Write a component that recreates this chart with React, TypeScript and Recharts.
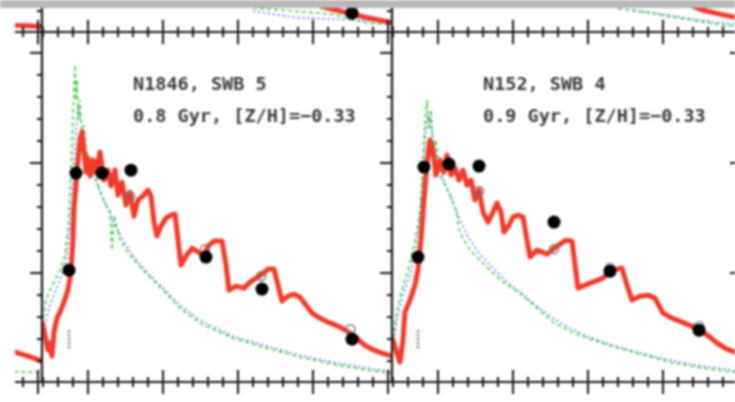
import React from "react";
import { ComposedChart, Line, Scatter, XAxis, YAxis, ReferenceLine } from "recharts";

type Pt = { x: number; y: number };
const pts = (a: number[][]): Pt[] => a.map(([x, y]) => ({ x, y }));

// axis frame (x ~ wavelength units, y ~ log flux units)
const X_DOMAIN: [number, number] = [0.387, 5.053];
const Y_DOMAIN: [number, number] = [0.01, 3.19];
const MAJOR_X = [1, 2, 3, 4, 5];
const MINOR_X = [0.4, 0.6, 0.8, 1.2, 1.4, 1.6, 1.8, 2.2, 2.4, 2.6, 2.8, 3.2, 3.4, 3.6, 3.8, 4.2, 4.4, 4.6, 4.8];
const MAJOR_Y = [1, 2, 3];
const MINOR_Y = [0.2, 0.4, 0.6, 0.8, 1.2, 1.4, 1.6, 1.8, 2.2, 2.4, 2.6, 2.8];

// N1846, SWB 5
const n1846Red = pts([
  [0.387, 0.554], [0.427, 0.436], [0.467, 0.3], [0.493, 0.363], [0.52, 0.245], [0.547, 0.463],
  [0.587, 0.59], [0.627, 0.645], [0.68, 0.736], [0.733, 0.845], [0.773, 1.008], [0.8, 1.3],
  [0.813, 1.572], [0.84, 1.799], [0.867, 2.026], [0.893, 2.208], [0.92, 2.281], [0.947, 2.117],
  [0.973, 1.917], [1.0, 2.045], [1.027, 1.881], [1.067, 2.026], [1.107, 1.917], [1.16, 2.099],
  [1.213, 1.845], [1.267, 1.936], [1.307, 1.79], [1.36, 1.936], [1.4, 1.708], [1.453, 1.826],
  [1.507, 1.617], [1.56, 1.736], [1.613, 1.517], [1.667, 1.663], [1.733, 1.699], [1.8, 1.754],
  [1.84, 1.699], [1.88, 1.463], [1.92, 1.336], [1.973, 1.426], [2.04, 1.499], [2.107, 1.526],
  [2.16, 1.536], [2.2, 1.3], [2.24, 1.072], [2.307, 1.154], [2.387, 1.226], [2.467, 1.19],
  [2.547, 1.163], [2.6, 1.245], [2.68, 1.29], [2.787, 1.29], [2.84, 1.072], [2.88, 0.845],
  [2.973, 0.881], [3.08, 0.863], [3.16, 0.917], [3.24, 0.954], [3.32, 0.99], [3.4, 1.036],
  [3.48, 1.036], [3.533, 0.89], [3.587, 0.745], [3.667, 0.79], [3.747, 0.808], [3.827, 0.781],
  [3.907, 0.708], [3.987, 0.636], [4.093, 0.59], [4.2, 0.554], [4.307, 0.526], [4.413, 0.49],
  [4.493, 0.454], [4.573, 0.417], [4.653, 0.363], [4.733, 0.326], [4.813, 0.3], [4.92, 0.272],
  [5.053, 0.245],
]);
const n1846Green = pts([
  [0.387, 0.526], [0.44, 0.754], [0.493, 0.845], [0.56, 0.935], [0.627, 1.026], [0.693, 1.163],
  [0.733, 1.39], [0.76, 1.754], [0.787, 2.208], [0.813, 2.663], [0.827, 2.89], [0.84, 2.572],
  [0.853, 2.754], [0.867, 2.39], [0.893, 2.572], [0.92, 2.208], [0.947, 2.345], [0.973, 2.117],
  [1.027, 2.026], [1.093, 1.89], [1.16, 1.754], [1.24, 1.617], [1.293, 1.572], [1.32, 1.208],
  [1.347, 1.526], [1.427, 1.299], [1.56, 1.163], [1.733, 1.026], [1.96, 0.872], [2.227, 0.681],
  [2.493, 0.545], [2.933, 0.408], [3.387, 0.317], [3.827, 0.236], [4.267, 0.172], [4.72, 0.117],
  [5.053, 0.09],
]);
const n1846Blue = pts([
  [0.387, 0.481], [0.44, 0.572], [0.493, 0.708], [0.573, 0.845], [0.653, 0.981], [0.707, 1.099],
  [0.76, 1.39], [0.8, 1.845], [0.84, 2.299], [0.867, 2.499], [0.893, 2.436], [0.933, 2.254],
  [0.973, 2.072], [1.027, 1.954], [1.093, 1.845], [1.16, 1.736], [1.253, 1.599], [1.36, 1.435],
  [1.493, 1.272], [1.627, 1.135], [1.76, 1.026], [1.96, 0.89], [2.227, 0.708], [2.493, 0.572],
  [2.933, 0.426], [3.387, 0.336], [3.827, 0.254], [4.267, 0.19], [4.72, 0.136], [5.053, 0.108],
]);
const n1846Obs = pts([
  [0.747, 1.026], [0.84, 1.908], [1.187, 1.908], [1.573, 1.935], [2.573, 1.145], [3.32, 0.854], [4.52, 0.399],
]);
const n1846Model = pts([[1.56, 1.699], [2.56, 1.217], [3.31, 0.972], [4.5, 0.49]]);

// N152, SWB 4
const n152Red = pts([
  [0.387, 0.417], [0.44, 0.3], [0.493, 0.19], [0.533, 0.39], [0.56, 0.645], [0.627, 0.754],
  [0.693, 0.89], [0.733, 1.026], [0.773, 1.299], [0.813, 1.663], [0.853, 1.981], [0.893, 2.208],
  [0.933, 2.117], [0.973, 1.89], [1.027, 2.026], [1.08, 1.917], [1.12, 2.072], [1.173, 1.89],
  [1.227, 1.954], [1.28, 1.845], [1.333, 1.936], [1.387, 1.799], [1.44, 1.845], [1.493, 1.663],
  [1.547, 1.754], [1.6, 1.554], [1.667, 1.463], [1.733, 1.554], [1.787, 1.636], [1.84, 1.554],
  [1.88, 1.372], [1.947, 1.435], [2.0, 1.508], [2.067, 1.526], [2.133, 1.508], [2.187, 1.299],
  [2.227, 1.145], [2.32, 1.208], [2.453, 1.172], [2.587, 1.245], [2.707, 1.299], [2.787, 1.29],
  [2.827, 1.072], [2.867, 0.863], [3.027, 0.908], [3.2, 0.954], [3.32, 1.026], [3.453, 1.045],
  [3.52, 0.89], [3.587, 0.754], [3.693, 0.79], [3.8, 0.799], [3.893, 0.772], [4.0, 0.636],
  [4.12, 0.59], [4.253, 0.554], [4.387, 0.517], [4.533, 0.463], [4.627, 0.417], [4.72, 0.363],
  [4.827, 0.317], [4.96, 0.281], [5.053, 0.254],
]);
const n152Green = pts([
  [0.387, 0.345], [0.453, 0.663], [0.52, 0.845], [0.6, 1.026], [0.667, 1.208], [0.733, 1.436],
  [0.773, 1.663], [0.8, 2.026], [0.827, 2.39], [0.853, 2.572], [0.88, 2.299], [0.907, 2.481],
  [0.933, 2.117], [0.973, 2.208], [1.027, 1.89], [1.093, 1.799], [1.16, 1.708], [1.24, 1.572],
  [1.293, 1.363], [1.427, 1.208], [1.653, 1.054], [1.867, 0.917], [2.093, 0.817], [2.32, 0.681],
  [2.533, 0.554], [2.76, 0.472], [2.987, 0.408], [3.32, 0.336], [3.653, 0.272], [4.093, 0.19],
  [4.533, 0.136], [5.053, 0.09],
]);
const n152Blue = pts([
  [0.387, 0.3], [0.453, 0.572], [0.533, 0.799], [0.627, 0.981], [0.707, 1.208], [0.76, 1.526],
  [0.8, 1.89], [0.84, 2.299], [0.867, 2.436], [0.907, 2.345], [0.947, 2.163], [1.0, 2.008],
  [1.067, 1.863], [1.16, 1.708], [1.267, 1.526], [1.387, 1.345], [1.533, 1.19], [1.693, 1.072],
  [1.893, 0.935], [2.093, 0.826], [2.32, 0.699], [2.533, 0.59], [2.76, 0.499], [2.987, 0.427],
  [3.32, 0.345], [3.653, 0.281], [4.093, 0.208], [4.533, 0.154], [5.053, 0.108],
]);
const n152Obs = pts([
  [0.733, 1.145], [0.813, 1.963], [1.147, 1.99], [1.547, 1.972], [2.547, 1.463], [3.293, 1.017], [4.48, 0.481],
]);
const n152Model = pts([[1.547, 1.745], [2.547, 1.217], [3.293, 1.045], [4.48, 0.517]]);

// tails of the neighbouring panels that show at the edges of the crop
const westRed = pts([[4.5, 0.3], [4.693, 0.281], [4.867, 0.245], [5.053, 0.2]]);
const westGreen = pts([[4.5, 0.11], [5.053, 0.095]]);
const northWestRed = pts([[4.5, 0.09], [4.693, 0.072], [5.053, 0.06]]);
const northRed = pts([[4.093, 0.245], [4.32, 0.208], [4.52, 0.172], [4.693, 0.144], [5.027, 0.099], [5.053, 0.097]]);
const northGreen = pts([[3.2, 0.23], [3.427, 0.217], [4.267, 0.172], [4.72, 0.09], [5.053, 0.08]]);
const northBlue = pts([[3.2, 0.2], [3.8, 0.14], [4.5, 0.12], [5.053, 0.1]]);
const northObs = pts([[4.52, 0.181]]);
const northEastRed = pts([[4.36, 0.254], [4.533, 0.208], [4.76, 0.172], [4.96, 0.144], [5.053, 0.13]]);
const northEastGreen = pts([[3.4, 0.22], [3.6, 0.208], [4.227, 0.135], [4.8, 0.072], [5.053, 0.06]]);
const northEastBlue = pts([[3.6, 0.2], [3.827, 0.19], [4.493, 0.117], [4.96, 0.081], [5.053, 0.078]]);

const AXIS = "#161616";
const RED = "#ef3b2a";
const GREEN = "#45cc45";
const BLUE = "#4a5cf0";
// tick lengths, in data units (x ticks cross the edge, y ticks point left)
const XT_MAJOR = 0.11;
const XT_MINOR = 0.046;
const YT_MAJOR = 0.16;
const YT_MINOR = 0.068;

type Seg = [{ x: number; y: number }, { x: number; y: number }];

function frameLines() {
  const [x0, x1] = X_DOMAIN;
  const [y0, y1] = Y_DOMAIN;
  const segs: { s: Seg; w: number }[] = [
    { s: [{ x: x0, y: y1 }, { x: x1, y: y1 }], w: 2.2 },
    { s: [{ x: x0, y: y0 }, { x: x1, y: y0 }], w: 2.2 },
    { s: [{ x: x0, y: y0 }, { x: x0, y: y1 }], w: 2.2 },
  ];
  const xt: [number[], number][] = [[MAJOR_X, XT_MAJOR], [MINOR_X, XT_MINOR]];
  for (const [ticks, len] of xt)
    for (const t of ticks)
      for (const y of [y0, y1]) segs.push({ s: [{ x: t, y: y - len }, { x: t, y: y + len }], w: 2 });
  const yt: [number[], number][] = [[MAJOR_Y, YT_MAJOR], [MINOR_Y, YT_MINOR]];
  for (const [ticks, len] of yt)
    for (const t of ticks) segs.push({ s: [{ x: x0 - len, y: t }, { x: x0, y: t }], w: 2 });
  return segs.map((g, i) => (
    <ReferenceLine key={`f${i}`} xAxisId="d" yAxisId="d" ifOverflow="visible" segment={g.s}
      stroke={AXIS} strokeWidth={g.w} />
  ));
}

const bigDot = (p: any) => <circle cx={p.cx} cy={p.cy} r={6.5} fill="#000" />;
const ring = (p: any) => <circle cx={p.cx} cy={p.cy} r={4.5} fill="none" stroke="#777" strokeWidth={1.5} />;

interface PanelProps {
  left: number;
  top: number;
  red?: Pt[];
  green?: Pt[];
  blue?: Pt[];
  obs?: Pt[];
  model?: Pt[];
  err?: { x: number; y0: number; y1: number };
  title?: [string, string];
}

function Panel({ left, top, red, green, blue, obs, model, err, title }: PanelProps) {
  return (
    <div style={{ position: "absolute", left, top, width: 350, height: 350 }}>
      <ComposedChart width={350} height={350} margin={{ top: 0, right: 0, bottom: 0, left: 0 }}>
        <XAxis xAxisId="d" dataKey="x" type="number" domain={X_DOMAIN} allowDataOverflow hide />
        <YAxis yAxisId="d" dataKey="y" type="number" domain={Y_DOMAIN} allowDataOverflow hide />
        {blue && (
          <Line xAxisId="d" yAxisId="d" data={blue} dataKey="y" type="linear" stroke={BLUE}
            strokeWidth={1.4} strokeDasharray="2 3" dot={false} isAnimationActive={false} />
        )}
        {green && (
          <Line xAxisId="d" yAxisId="d" data={green} dataKey="y" type="linear" stroke={GREEN}
            strokeWidth={1.6} strokeDasharray="4 3" dot={false} isAnimationActive={false} />
        )}
        {red && (
          <Line xAxisId="d" yAxisId="d" data={red} dataKey="y" type="linear" stroke={RED}
            strokeWidth={5} strokeLinejoin="round" dot={false} isAnimationActive={false} />
        )}
        {frameLines()}
        {err && (
          <ReferenceLine xAxisId="d" yAxisId="d" stroke="#888" strokeWidth={3} strokeDasharray="2 2"
            segment={[{ x: err.x, y: err.y0 }, { x: err.x, y: err.y1 }]} />
        )}
        {model && (
          <Scatter xAxisId="d" yAxisId="d" data={model} dataKey="y" shape={ring} isAnimationActive={false} />
        )}
        {obs && (
          <Scatter xAxisId="d" yAxisId="d" data={obs} dataKey="y" fill="#000" shape={bigDot} isAnimationActive={false} />
        )}
      </ComposedChart>
      {title &&
        title.map((t, i) => (
          <div key={i} style={{
            position: "absolute", left: 91, top: 43 + i * 32, fontFamily: "'DejaVu Sans Mono', monospace",
            fontWeight: "bold", fontSize: 18.5, lineHeight: "18px", color: "#3a3a3a", whiteSpace: "pre",
          }}>{t}</div>
        ))}
    </div>
  );
}

export default function App() {
  return (
    <div style={{ position: "absolute", left: 0, top: 0, width: 735, height: 402, background: "#fff", overflow: "hidden", filter: "blur(0.8px)" }}>
      <style>{".recharts-surface{overflow:visible}"}</style>
      <div style={{ position: "absolute", left: 0, top: 0, width: 735, height: 8, background: "#b9b9b9", zIndex: 2 }} />
      <div style={{ position: "absolute", left: 15, top: 8, width: 720, height: 394, overflow: "hidden" }}>
        <Panel left={-323} top={-326} red={northWestRed} />
        <Panel left={27} top={-326} red={northRed} green={northGreen} blue={northBlue} obs={northObs} />
        <Panel left={377} top={-326} red={northEastRed} green={northEastGreen} blue={northEastBlue} />
        <Panel left={-323} top={24} red={westRed} green={westGreen} />
        <Panel left={27} top={24} red={n1846Red} green={n1846Green} blue={n1846Blue}
          obs={n1846Obs} model={n1846Model} err={{ x: 0.747, y0: 0.317, y1: 0.481 }}
          title={["N1846, SWB 5", "0.8 Gyr, [Z/H]=\u22120.33"]} />
        <Panel left={377} top={24} red={n152Red} green={n152Green} blue={n152Blue}
          obs={n152Obs} model={n152Model} err={{ x: 0.733, y0: 0.317, y1: 0.481 }}
          title={["N152, SWB 4", "0.9 Gyr, [Z/H]=\u22120.33"]} />
        <Panel left={727} top={24} />
      </div>
    </div>
  );
}
